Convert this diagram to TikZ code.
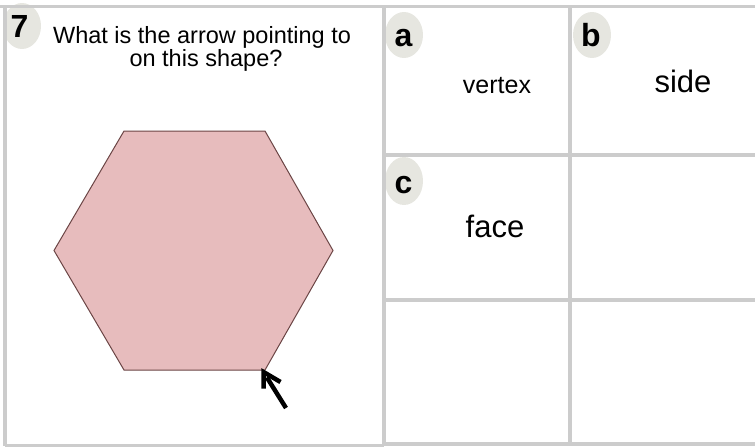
\documentclass[tikz,border=0pt]{standalone}
\usepackage{fontspec}
\setmainfont{Liberation Sans}
\usetikzlibrary{calc}
\definecolor{gridgray}{HTML}{CCCCCC}
\definecolor{badgegray}{HTML}{E6E6E0}
\definecolor{hexfill}{HTML}{E7BCBD}
\definecolor{hexline}{HTML}{6B4545}
\begin{document}
\begin{tikzpicture}[x=1pt,y=-1pt,
  gridline/.style={draw=gridgray,line width=3.5pt},
  badge/.style={fill=badgegray},
  badgetext/.style={font=\bfseries\fontsize{32}{32}\selectfont,anchor=base,inner sep=0pt},
  qtext/.style={font=\fontsize{23.5}{24}\selectfont,anchor=base,inner sep=0pt},
  celltext/.style={anchor=base,inner sep=0pt}]
\useasboundingbox (0,0) rectangle (755,447);
% badges
\fill[badge] (22,26) ellipse [x radius=19, y radius=23];
\fill[badge] (404,35) ellipse [x radius=19, y radius=23];
\fill[badge] (592,35) ellipse [x radius=19, y radius=23];
\fill[badge] (404,181) ellipse [x radius=19, y radius=24];
% grid
\draw[gridline] (0,6.5) -- (755,6.5);
\draw[gridline] (5,6.5) -- (5,446);
\draw[gridline] (5,445.5) -- (384,445.5);
\draw[gridline] (384,6.5) -- (384,445.5);
\draw[gridline] (384,444) -- (755,444);
\draw[gridline] (570,6.5) -- (570,444);
\draw[gridline] (384,155) -- (755,155);
\draw[gridline] (384,300) -- (755,300);
% badge labels
\node[badgetext] (n7) at (19.5,37) {7};
\node[badgetext] (na) at (403.5,46) {a};
\node[badgetext] (nb) at (591,46) {b};
\node[badgetext] (nc) at (403.5,193) {c};
% question
\node[qtext] (q1) at (202,43.5) {What is the arrow pointing to};
\node[qtext] (q2) at (206,66) {on this shape?};
% answers
\node[celltext,font=\fontsize{25}{25}\selectfont] (va) at (497,93) {vertex};
\node[celltext,font=\fontsize{31}{31}\selectfont] (vb) at (683,92) {side};
\node[celltext,font=\fontsize{31}{31}\selectfont] (vc) at (495,237) {face};
% hexagon
\coordinate (h1) at (124,131);
\coordinate (h2) at (265,131);
\coordinate (h3) at (333,250.5);
\coordinate (h4) at (265,370);
\coordinate (h5) at (124,370);
\coordinate (h6) at (54,250.5);
\filldraw[fill=hexfill,draw=hexline,line width=1pt,line join=miter]
  (h1) -- (h2) -- (h3) -- (h4) -- (h5) -- (h6) -- cycle;
% arrow
\coordinate (tip) at (263.5,372);
\coordinate (tail) at (286,408);
\coordinate (barbL) at (263.5,388.5);
\coordinate (barbR) at (280.5,382);
\draw[line width=4.5pt] (tail) -- ($(tip)!0.15!(tail)$);
\draw[line width=4.5pt,line join=miter] (barbL) -- (tip) -- (barbR);
\end{tikzpicture}
\end{document}
